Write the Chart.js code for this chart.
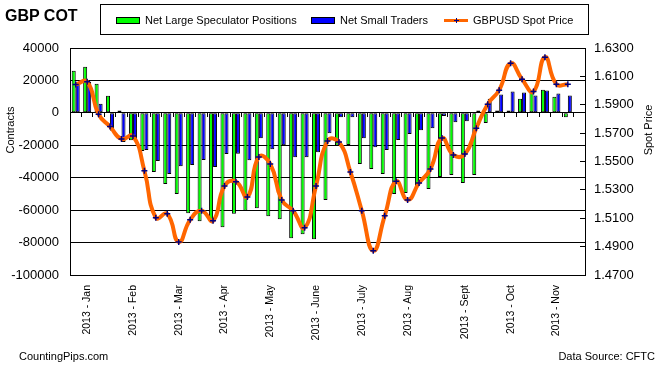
<!DOCTYPE html>
<html>
<head>
<meta charset="utf-8">
<script src="https://cdn.jsdelivr.net/npm/chart.js@4.4.1/dist/chart.umd.min.js"></script>
<style>
  body { margin: 0; background: #fff; }
  #wrap { position: relative; width: 661px; height: 366px; font-family: "Liberation Sans", Arial, sans-serif; color: #000; }
  #wrap canvas { position: absolute; left: 0; top: 0; }
  .txt { position: absolute; white-space: nowrap; font-size: 11px; line-height: 11px; }
  .title { position: absolute; left: 5px; top: 8px; font-size: 16px; line-height: 16px; font-weight: bold; }
  .legend-box { position: absolute; left: 100px; top: 4px; width: 489px; height: 31px; box-sizing: border-box; border: 1px solid #000; }
  .sw { position: absolute; top: 17px; width: 24px; height: 7px; box-sizing: border-box; border: 1px solid #000; }
  .axis-title { position: absolute; width: 80px; height: 14px; line-height: 14px; font-size: 11px; text-align: center; transform: rotate(-90deg); }
</style>
</head>
<body>
<div id="wrap">
  <canvas id="cot" width="661" height="366"></canvas>

  <div class="title">GBP COT</div>

  <div class="legend-box"></div>
  <div class="sw" style="left:116px;background:#00FF00"></div>
  <div class="txt" style="left:145px;top:15px">Net Large Speculator Positions</div>
  <div class="sw" style="left:311px;background:#0000FF"></div>
  <div class="txt" style="left:340px;top:15px">Net Small Traders</div>
  <div style="position:absolute;left:444px;top:19px;width:24px;height:3px;background:#FF6600"></div>
  <div style="position:absolute;left:454px;top:20px;width:5px;height:1px;background:#000080"></div>
  <div style="position:absolute;left:456px;top:18px;width:1px;height:5px;background:#000080"></div>
  <div class="txt" style="left:473px;top:15px">GBPUSD Spot Price</div>

  <div class="axis-title" style="left:-30px;top:123px">Contracts</div>
  <div class="axis-title" style="left:608px;top:123px">Spot Price</div>

  <div class="txt" style="left:19px;top:351px">CountingPips.com</div>
  <div class="txt" style="right:6px;top:351px">Data Source: CFTC</div>
</div>

<script>
// ── Data ──────────────────────────────────────────────────
const weekCount = 45;   // 44 weekly reports + one empty slot at the end

const monthLabels = [
  "2013 - Jan", "2013 - Feb", "2013 - Mar", "2013 - Apr", "2013 - May", "2013 - June",
  "2013 - July", "2013 - Aug", "2013 - Sept", "2013 - Oct", "2013 - Nov"
];
// week index under which each month label sits
const monthLabelWeek = [1, 5, 9, 13, 17, 21, 25, 29, 34, 38, 42];

const largeSpeculators = [
  26000, 28500, 17900, 10500, 1400, -16900, -23500, -36500, -43900, -50100,
  -61900, -66800, -66000, -70500, -62300, -60400, -58800, -63700, -65600, -77300,
  -74800, -77900, -53800, -20200, -19800, -31500, -34600, -37700, -50100, -49500,
  -45600, -47000, -39600, -38400, -43300, -38400, -6200, 1400, 1400, 8700,
  13000, 14200, 9900, -2700, null
];

const smallTraders = [
  18000, 19000, 5600, -11100, -18000, -16500, -22900, -29700, -37700, -33000,
  -32200, -29100, -33400, -25400, -25200, -29300, -15700, -22500, -20000, -27400,
  -27400, -24300, -12600, -2700, -2700, -15700, -21200, -22900, -16700, -13000,
  -10700, -9500, -1900, -5800, -5200, 1400, 8700, 11300, 13200, 12600,
  10700, 13800, 12000, 10700, null
];

const spotPrice = [
  1.6043, 1.6062, 1.5833, 1.5746, 1.5659, 1.5680, 1.5435, 1.5103, 1.5131, 1.4933,
  1.5089, 1.5153, 1.5082, 1.5327, 1.5358, 1.5250, 1.5532, 1.5482, 1.5229, 1.5152,
  1.5033, 1.5328, 1.5644, 1.5637, 1.5426, 1.5152, 1.4871, 1.5117, 1.5360, 1.5229,
  1.5349, 1.5447, 1.5665, 1.5546, 1.5553, 1.5735, 1.5904, 1.6003, 1.6192, 1.6080,
  1.5993, 1.6235, 1.6045, 1.6045, null
];

const labels = Array.from({ length: weekCount }, () => "");
monthLabelWeek.forEach((w, i) => { labels[w] = monthLabels[i]; });

// ── Chart ─────────────────────────────────────────────────
Chart.defaults.font.family = '"Liberation Sans", Arial, sans-serif';
Chart.defaults.color = "#000";

new Chart(document.getElementById("cot"), {
  type: "bar",
  data: {
    labels: labels,
    datasets: [
      {
        label: "Net Large Speculator Positions",
        data: largeSpeculators,
        backgroundColor: "#00FF00",
        borderColor: "#000",
        borderWidth: 1,
        borderSkipped: false,
        barPercentage: 1,
        categoryPercentage: 0.7,
        xAxisID: "x",
        yAxisID: "y",
        order: 2,
      },
      {
        label: "Net Small Traders",
        data: smallTraders,
        backgroundColor: "#0000FF",
        borderColor: "#000",
        borderWidth: 1,
        borderSkipped: false,
        barPercentage: 1,
        categoryPercentage: 0.7,
        xAxisID: "x",
        yAxisID: "y",
        order: 2,
      },
      {
        type: "line",
        label: "GBPUSD Spot Price",
        data: spotPrice,
        borderColor: "#FF6600",
        borderWidth: 4,
        tension: 0.5,
        fill: false,
        pointStyle: "cross",
        pointRadius: 3,
        pointBorderWidth: 1.5,
        pointBorderColor: "#000080",
        pointBackgroundColor: "#000080",
        xAxisID: "x",
        yAxisID: "y1",
        order: 0,
      },
    ],
  },
  options: {
    responsive: false,
    animation: false,
    devicePixelRatio: 1,
    layout: { padding: { top: 48, left: 0, right: 0, bottom: 0 } },
    plugins: {
      legend: { display: false },
      tooltip: { enabled: false },
    },
    scales: {
      x: {
        type: "category",
        position: "bottom",
        offset: true,
        grid: { display: false, drawTicks: false },
        border: { display: false },
        ticks: {
          autoSkip: false,
          minRotation: 90,
          maxRotation: 90,
          padding: 10,
          font: { size: 10.5 },
        },
        afterFit: (s) => { s.height = 91; },
      },
      // category boundary ticks sitting on the zero line
      xZero: {
        type: "category",
        position: { y: 0 },
        offset: true,
        grid: { offset: true, drawOnChartArea: false, tickLength: 4, color: "#000" },
        border: { display: false },
        ticks: { display: false },
      },
      y: {
        position: "left",
        min: -100000,
        max: 40000,
        grid: { color: "#000", drawTicks: false },
        border: { color: "#000" },
        ticks: {
          stepSize: 20000,
          padding: 11,
          font: { size: 13 },
          callback: (v) => String(v),
        },
        afterFit: (s) => { s.width = 70; },
      },
      y1: {
        position: "right",
        min: 1.47,
        max: 1.63,
        grid: { drawOnChartArea: false, tickLength: -5, color: "#000" },
        border: { color: "#000" },
        ticks: {
          stepSize: 0.02,
          padding: 14,
          font: { size: 13 },
          callback: (v) => v.toFixed(4),
        },
        afterFit: (s) => { s.width = 76; },
      },
    },
  },
});
</script>
</body>
</html>
